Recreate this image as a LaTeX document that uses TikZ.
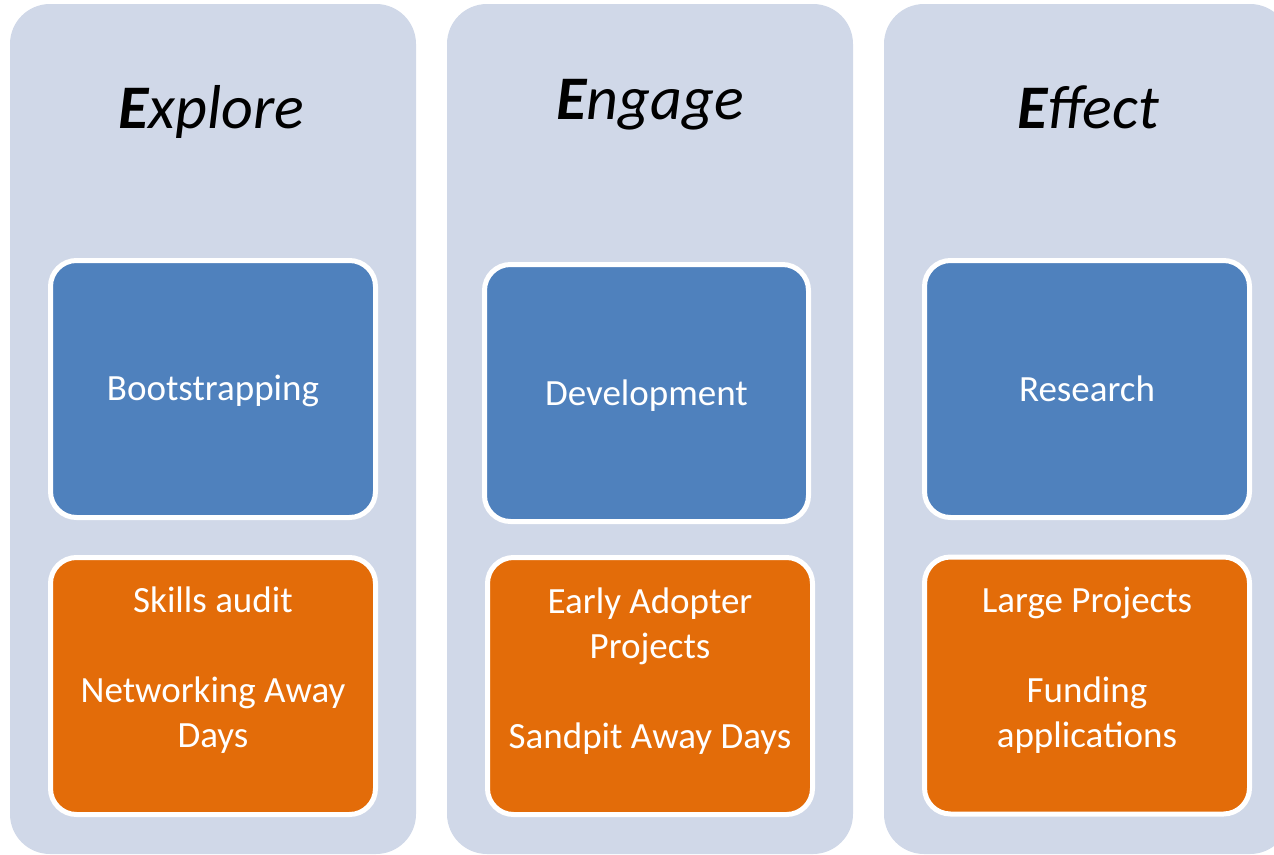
\documentclass[tikz,border=0pt]{standalone}
\usepackage{fontspec}
\setmainfont{Carlito}
\definecolor{panelbg}{HTML}{D0D8E8}
\definecolor{stageblue}{HTML}{4F81BD}
\definecolor{actorange}{HTML}{E36C09}
\tikzset{
  panel/.style={fill=panelbg, draw=none, rounded corners=40pt, inner sep=0pt, outer sep=0pt,
    minimum width=406pt, minimum height=850pt},
  card/.style={draw=white, line width=5pt, rounded corners=26pt, inner sep=0pt, outer sep=0pt,
    minimum width=325pt, minimum height=257pt},
  bluecard/.style={card, fill=stageblue},
  orangecard/.style={card, fill=actorange},
  heading/.style={anchor=base, inner sep=0pt, font=\fontsize{62}{74}\selectfont\itshape},
  label/.style={anchor=base, inner sep=0pt, text=white, font=\fontsize{37}{45}\selectfont},
}
\newcommand{\cardtext}[1]{\parbox[t]{320pt}{\centering #1}}
\begin{document}
\begin{tikzpicture}[x=1pt,y=-1pt]
  \useasboundingbox (0,0) rectangle (1274,854);
  \clip (0,0) rectangle (1274,854);
  % three stage panels
  \node[panel] (p1) at (213,429) {};
  \node[panel] (p2) at (650,429) {};
  \node[panel] (p3) at (1087,429) {};
  % headings
  \node[heading] (h1) at (211,128) {{\bfseries E}xplore};
  \node[heading] (h2) at (650,119) {{\bfseries E}ngage};
  \node[heading] (h3) at (1088,128) {{\bfseries E}ffect};
  % activity cards
  \node[bluecard] (b1) at (213,389) {};
  \node[bluecard, minimum width=324pt] (b2) at (646.5,393) {};
  \node[bluecard] (b3) at (1087,389) {};
  \node[orangecard] (o1) at (213,686) {};
  \node[orangecard, minimum width=325pt] (o2) at (650,686) {};
  \node[orangecard] (o3) at (1087,685.5) {};
  % card labels
  \node[label] (t1) at (213,400) {Bootstrapping};
  \node[label] (t2) at (646.5,405) {Development};
  \node[label] (t3) at (1087,401) {Research};
  \node[label] (u1) at (213,612) {\cardtext{Skills audit\\[45pt]Networking Away\\Days}};
  \node[label] (u2) at (650,613) {\cardtext{Early Adopter\\Projects\\[45pt]Sandpit Away Days}};
  \node[label] (u3) at (1087,612) {\cardtext{Large Projects\\[45pt]Funding\\applications}};
\end{tikzpicture}
\end{document}
